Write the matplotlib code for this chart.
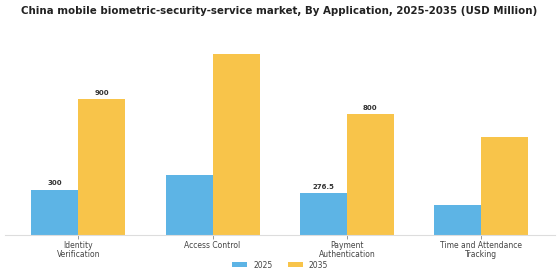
import matplotlib.pyplot as plt
import numpy as np

categories = ['Identity\nVerification', 'Access Control', 'Payment\nAuthentication', 'Time and Attendance\nTracking']
years = ['2025', '2035']
values_2025 = [300, 400, 276.5, 200]
values_2035 = [900, 1200, 800, 650]
# only some bars carry a value label in the original
labels_2025 = ['300', None, '276.5', None]
labels_2035 = ['900', None, '800', None]

blue = '#5DB4E5'
orange = '#F8C44A'

fig = plt.figure(figsize=(5.6, 2.8), dpi=100)
ax = fig.add_axes([5 / 560, 45 / 280, 550 / 560, 196 / 280])

x = np.arange(len(categories))
w = 0.35
b1 = ax.bar(x - w / 2, values_2025, w, color=blue, label=years[0])
b2 = ax.bar(x + w / 2, values_2035, w, color=orange, label=years[1])

for bars, labs in ((b1, labels_2025), (b2, labels_2035)):
    for bar, lab in zip(bars, labs):
        if lab:
            ax.text(bar.get_x() + bar.get_width() / 2, bar.get_height() + 25, lab,
                    ha='center', va='bottom', fontsize=5, fontweight='bold', color='#333333')

ax.set_xlim(-0.545, 3.55)
ax.set_ylim(0, 1300)
ax.set_xticks(x)
ax.set_xticklabels(categories, fontsize=5.5, color='#444444', linespacing=0.95)
ax.tick_params(axis='x', length=3, color='#888888', width=0.6, pad=1.5)
ax.set_yticks([])
for s in ['top', 'right', 'left']:
    ax.spines[s].set_visible(False)
ax.spines['bottom'].set_color('#dddddd')

fig.text(279 / 560, 1 - 11 / 280, 'China mobile biometric-security-service market, By Application, 2025-2035 (USD Million)',
         ha='center', va='center', fontsize=7.4, fontweight='bold', color='#222222')

fig.legend(handles=[b1, b2], loc='center', bbox_to_anchor=(280 / 560, 1 - 265 / 280), ncol=2,
           frameon=False, fontsize=5.5, handlelength=2.0, handleheight=0.6, columnspacing=2.0,
           labelcolor='#444444')

fig.savefig('out.png', dpi=100)
